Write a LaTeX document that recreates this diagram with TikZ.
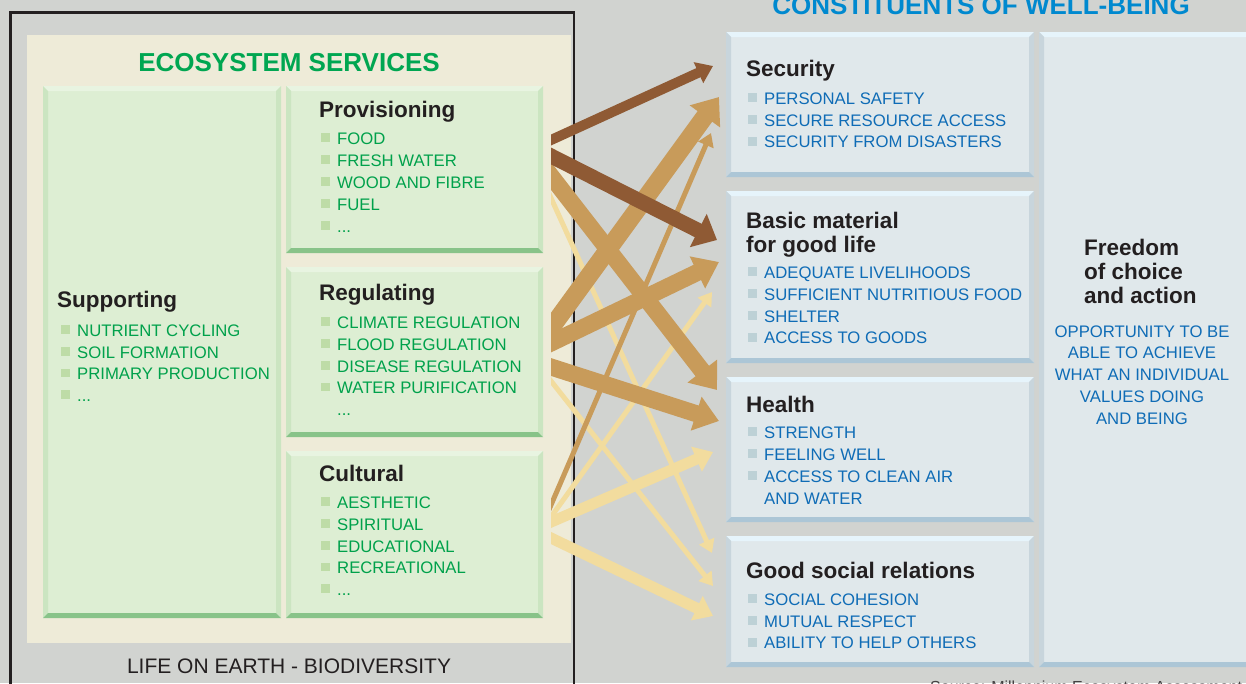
\documentclass[tikz,border=0pt]{standalone}
\usepackage{fontspec}
\setmainfont{Liberation Sans}
\usetikzlibrary{arrows.meta}
\definecolor{bgc}{HTML}{D1D3D0}
\definecolor{ink}{HTML}{231F20}
\definecolor{beige}{HTML}{EEEBD8}
\definecolor{gfill}{HTML}{DDEED3}
\definecolor{gtop}{HTML}{E8F4E1}
\definecolor{gside}{HTML}{CBE5C1}
\definecolor{gbot}{HTML}{88C389}
\definecolor{gtext}{HTML}{00A14B}
\definecolor{gtitle}{HTML}{00A651}
\definecolor{gbul}{HTML}{BEDCA7}
\definecolor{bfill}{HTML}{E0E8EB}
\definecolor{btop}{HTML}{E6F4FB}
\definecolor{bside}{HTML}{C8D5DC}
\definecolor{bbot}{HTML}{ACC6D6}
\definecolor{btext}{HTML}{0F6CB6}
\definecolor{btitle}{HTML}{0089CF}
\definecolor{bbul}{HTML}{BDD1D6}
\definecolor{darkbrown}{HTML}{8F5A34}
\definecolor{arrtan}{HTML}{C89B5A}
\definecolor{cream}{HTML}{F2DC9E}

\newcommand\bevelbox[9]{%
  \node[inner sep=0pt, outer sep=0pt, fill=#6, anchor=north west,
        minimum width={#4-#2}, minimum height={#5-#3}] (#1) at (#2,#3) {};
  \fill[#7] (#2,#3) -- (#4,#3) -- (#4-5,#3+5) -- (#2+5,#3+5) -- cycle;
  \fill[#8] (#2,#3) -- (#2+5,#3+5) -- (#2+5,#5-5) -- (#2,#5) -- cycle;
  \fill[#8] (#4,#3) -- (#4,#5) -- (#4-5,#5-5) -- (#4-5,#3+5) -- cycle;
  \fill[#9] (#2,#5) -- (#2+5,#5-5) -- (#4-5,#5-5) -- (#4,#5) -- cycle;
}
\newcommand\gitem[4]{%
  \node[gbullet] (#1b) at (#2-16,#3-2) {};
  \node[gtxt] (#1) at (#2,#3) {#4};
}
\newcommand\bitem[4]{%
  \node[bbullet] (#1b) at (#2-16,#3-1.5) {};
  \node[btxt] (#1) at (#2,#3) {#4};
}

\begin{document}
\begin{tikzpicture}[x=1pt,y=-1pt,
  gbullet/.style={fill=gbul, inner sep=0pt, minimum size=8.5pt, anchor=south west},
  bbullet/.style={fill=bbul, inner sep=0pt, minimum size=9pt, anchor=south west},
  gtxt/.style={anchor=base west, inner sep=0pt, text=gtext, font=\fontsize{16.7}{20}\selectfont},
  btxt/.style={anchor=base west, inner sep=0pt, text=btext, font=\fontsize{16.7}{20}\selectfont},
  head/.style={anchor=base west, inner sep=0pt, text=ink, font=\bfseries\fontsize{22.5}{27}\selectfont},
  title/.style={anchor=base, inner sep=0pt, font=\bfseries\fontsize{26}{30}\selectfont},
]
\useasboundingbox (0,0) rectangle (1246,683);
\fill[bgc] (0,0) rectangle (1246,683);

% left frame
\draw[ink, line width=2.3pt] (10.5,12.5) rectangle (574,720);
\fill[beige] (27,35) rectangle (571,643);
\node[title, text=gtitle] (est) at (289,71) {ECOSYSTEM SERVICES};
\node[anchor=base, inner sep=0pt, text=ink, font=\fontsize{21}{25}\selectfont] (life) at (289,673) {LIFE ON EARTH - BIODIVERSITY};

% green boxes
\bevelbox{supp}{43}{86}{281}{618}{gfill}{gtop}{gside}{gbot}
\bevelbox{prov}{286}{86}{543}{253}{gfill}{gtop}{gside}{gbot}
\bevelbox{regu}{286}{267}{543}{437}{gfill}{gtop}{gside}{gbot}
\bevelbox{cult}{286}{451}{543}{618}{gfill}{gtop}{gside}{gbot}

\node[head] (supph) at (57,307) {Supporting};
\gitem{s1}{77}{336}{NUTRIENT CYCLING}
\gitem{s2}{77}{358}{SOIL FORMATION}
\gitem{s3}{77}{379.5}{PRIMARY PRODUCTION}
\gitem{s4}{77}{401}{...}

\node[head] (provh) at (319,117) {Provisioning};
\gitem{p1}{337}{144}{FOOD}
\gitem{p2}{337}{166}{FRESH WATER}
\gitem{p3}{337}{188}{WOOD AND FIBRE}
\gitem{p4}{337}{210}{FUEL}
\gitem{p5}{337}{232}{...}

\node[head] (reguh) at (319,300) {Regulating};
\gitem{r1}{337}{328}{CLIMATE REGULATION}
\gitem{r2}{337}{350}{FLOOD REGULATION}
\gitem{r3}{337}{372}{DISEASE REGULATION}
\gitem{r4}{337}{393.5}{WATER PURIFICATION}
\node[gtxt] (r5) at (337,415) {...};

\node[head] (culth) at (319,481) {Cultural};
\gitem{c1}{337}{508}{AESTHETIC}
\gitem{c2}{337}{530}{SPIRITUAL}
\gitem{c3}{337}{552}{EDUCATIONAL}
\gitem{c4}{337}{573.5}{RECREATIONAL}
\gitem{c5}{337}{595}{...}

% right side
\node[title, text=btitle] (cwb) at (981,14) {CONSTITUENTS OF WELL-BEING};
\bevelbox{secu}{726}{32}{1034}{177}{bfill}{btop}{bside}{bbot}
\bevelbox{basic}{726}{191}{1034}{363}{bfill}{btop}{bside}{bbot}
\bevelbox{heal}{726}{377}{1034}{522}{bfill}{btop}{bside}{bbot}
\bevelbox{good}{726}{536}{1034}{667}{bfill}{btop}{bside}{bbot}
\bevelbox{free}{1039}{32}{1262}{667}{bfill}{btop}{bside}{bbot}

\node[head] (secuh) at (746,76) {Security};
\bitem{e1}{764}{104}{PERSONAL SAFETY}
\bitem{e2}{764}{126}{SECURE RESOURCE ACCESS}
\bitem{e3}{764}{147.5}{SECURITY FROM DISASTERS}

\node[head] (basich) at (746,228) {Basic material};
\node[head] (basich2) at (746,252) {for good life};
\bitem{m1}{764}{278}{ADEQUATE LIVELIHOODS}
\bitem{m2}{764}{300}{SUFFICIENT NUTRITIOUS FOOD}
\bitem{m3}{764}{322}{SHELTER}
\bitem{m4}{764}{343.5}{ACCESS TO GOODS}

\node[head] (healh) at (746,412) {Health};
\bitem{h1}{764}{438}{STRENGTH}
\bitem{h2}{764}{460}{FEELING WELL}
\bitem{h3}{764}{482}{ACCESS TO CLEAN AIR}
\node[btxt] (h4) at (764,504) {AND WATER};

\node[head] (goodh) at (746,578) {Good social relations};
\bitem{g1}{764}{605}{SOCIAL COHESION}
\bitem{g2}{764}{627}{MUTUAL RESPECT}
\bitem{g3}{764}{648.5}{ABILITY TO HELP OTHERS}

\node[head] (f1) at (1084,255) {Freedom};
\node[head] (f2) at (1084,279) {of choice};
\node[head] (f3) at (1084,303) {and action};
\foreach \t/\yy [count=\i] in {OPPORTUNITY TO BE/337, ABLE TO ACHIEVE/358.5, WHAT AN INDIVIDUAL/380, VALUES DOING/402, AND BEING/424}
  \node[anchor=base, inner sep=0pt, text=btext, font=\fontsize{16.7}{20}\selectfont] (fo\i) at (1142,\yy) {\t};

\node[anchor=base west, inner sep=0pt, text=ink!85, font=\fontsize{16}{19}\selectfont] (src) at (930,692.5) {Source: Millennium Ecosystem Assessment};

% arrow end points
\coordinate (sa1) at (551,140);  \coordinate (ta1) at (713,66);
\coordinate (sa2) at (551,156);  \coordinate (ta2) at (717,240);
\coordinate (sa3) at (551,176);  \coordinate (ta3) at (717,390);
\coordinate (sa4) at (551,328);  \coordinate (ta4) at (719,97);
\coordinate (sa5) at (551,343);  \coordinate (ta5) at (719,262);
\coordinate (sa6) at (551,367);  \coordinate (ta6) at (719,421);
\coordinate (sa7) at (551,505);  \coordinate (ta7) at (711,133);
\coordinate (sa8) at (551,198);  \coordinate (ta8) at (712,553);
\coordinate (sa9) at (551,381);  \coordinate (ta9) at (713,586);
\coordinate (sa10) at (551,517); \coordinate (ta10) at (712,292);
\coordinate (sa11) at (551,522); \coordinate (ta11) at (713,452);
\coordinate (sa12) at (551,538); \coordinate (ta12) at (713,616);

\begin{scope}
\clip (551,-10) rectangle (800,700);
% thin cream
\draw[cream, line width=5pt, shorten <=-12pt, -{Triangle[length=13pt,width=16pt]}] (sa8) -- (ta8);
\draw[cream, line width=5pt, shorten <=-12pt, -{Triangle[length=13pt,width=16pt]}] (sa9) -- (ta9);
\draw[cream, line width=5pt, shorten <=-12pt, -{Triangle[length=13pt,width=16pt]}] (sa10) -- (ta10);
% thin tan
\draw[arrtan, line width=5pt, shorten <=-12pt, -{Triangle[length=13pt,width=16pt]}] (sa7) -- (ta7);
% thick tan
\draw[arrtan, line width=17pt, shorten <=-14pt, -{Triangle[length=24pt,width=36pt]}] (sa3) -- (ta3);
\draw[arrtan, line width=18pt, shorten <=-14pt, -{Triangle[length=24pt,width=36pt]}] (sa4) -- (ta4);
\draw[arrtan, line width=17pt, shorten <=-14pt, -{Triangle[length=24pt,width=34pt]}] (sa5) -- (ta5);
\draw[arrtan, line width=17pt, shorten <=-14pt, -{Triangle[length=24pt,width=34pt]}] (sa6) -- (ta6);
% dark brown
\draw[darkbrown, line width=10pt, shorten <=-12pt, -{Triangle[length=16pt,width=22pt]}] (sa1) -- (ta1);
\draw[darkbrown, line width=15pt, shorten <=-12pt, -{Triangle[length=21pt,width=36pt]}] (sa2) -- (ta2);
% thick cream
\draw[cream, line width=11pt, shorten <=-12pt, -{Triangle[length=18pt,width=26pt]}] (sa11) -- (ta11);
\draw[cream, line width=11pt, shorten <=-12pt, -{Triangle[length=18pt,width=26pt]}] (sa12) -- (ta12);
\end{scope}
\end{tikzpicture}
\end{document}
